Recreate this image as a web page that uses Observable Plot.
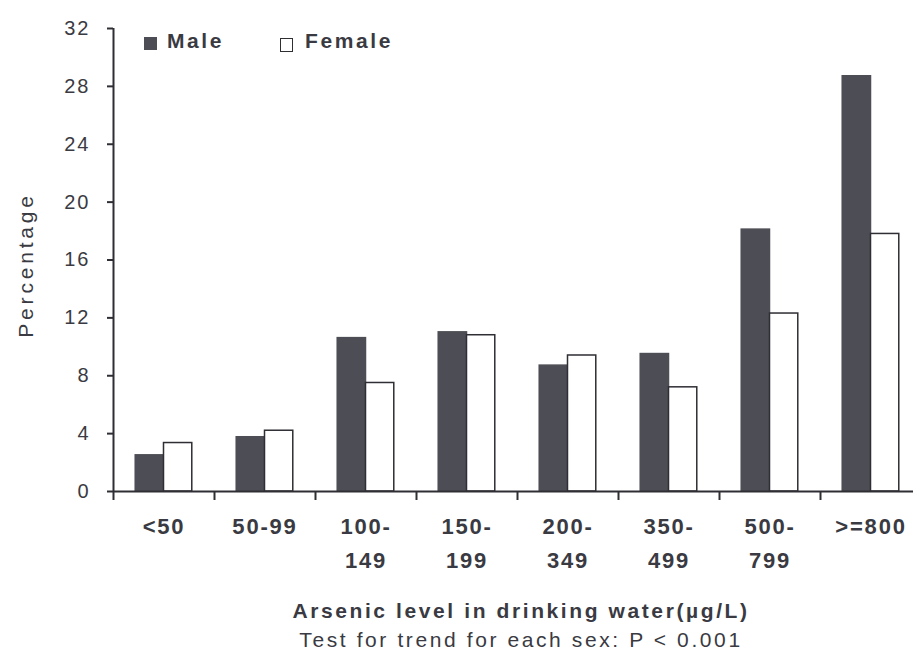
<!DOCTYPE html>
<html>
<head>
<meta charset="utf-8">
<script src="https://cdn.jsdelivr.net/npm/d3@7"></script>
<script src="https://cdn.jsdelivr.net/npm/@observablehq/plot@0.6"></script>
<style>
  html, body { margin: 0; padding: 0; background: #ffffff; }
  #wrap { position: relative; width: 913px; height: 662px; overflow: hidden; font-family: "Liberation Sans", Arial, sans-serif; color: #3a3a42; }
  #legend { position: absolute; left: 0; top: 0; }
  .lg-box { position: absolute; box-sizing: border-box; }
  .lg-text { position: absolute; font-size: 21px; font-weight: bold; letter-spacing: 2.6px; line-height: 1; }
  .cap { position: absolute; left: 521px; transform: translateX(-50%); white-space: nowrap; }
  #wrap svg g[aria-label="y-axis tick label"] text { letter-spacing: 2px; }
  #wrap svg g[aria-label="x-axis tick label"] text { letter-spacing: 1.8px; }
  #wrap svg g.ylab text { letter-spacing: 3.8px; }
</style>
</head>
<body>
<div id="wrap"></div>
<script>
// ---- data ----
const categories = ["<50", "50-99", "100-149", "150-199", "200-349", "350-499", "500-799", ">=800"];
const tickLabels = ["<50", "50-99", "100-\n149", "150-\n199", "200-\n349", "350-\n499", "500-\n799", ">=800"];
const male   = [2.5, 3.75, 10.6, 11.0, 8.7, 9.5, 18.1, 28.7];
const female = [3.35, 4.2, 7.5, 10.8, 9.4, 7.2, 12.3, 17.8];
const yTicks = [0, 4, 8, 12, 16, 20, 24, 28, 32];
const seriesNames = ["Male", "Female"];

// ---- styles ----
const maleFill = "#4d4d55";
const ink = "#3a3a42";
const half = 0.28; // bar width in category units

const rows = [];
categories.forEach((c, i) => {
  rows.push({i, sex: "Male", x1: i + 0.5 - half, x2: i + 0.5, value: male[i]});
  rows.push({i, sex: "Female", x1: i + 0.5, x2: i + 0.5 + half, value: female[i]});
});

const plot = Plot.plot({
  width: 913,
  height: 590,
  marginTop: 28,
  marginBottom: 99,
  marginLeft: 113,
  marginRight: 0,
  style: {fontFamily: "'Liberation Sans', Arial, sans-serif", color: ink, background: "transparent", overflow: "visible"},
  x: {type: "linear", domain: [0, categories.length], range: [113, 921]},
  y: {domain: [0, 32], range: [491, 28]},
  marks: [
    Plot.rectY(rows, {
      x1: "x1", x2: "x2", y1: 0, y2: "value",
      fill: d => d.sex === "Male" ? maleFill : "#ffffff",
      stroke: d => d.sex === "Male" ? maleFill : "#2e2e34",
      strokeWidth: 1.5
    }),
    Plot.ruleY([0], {stroke: "#2e2e34", strokeWidth: 2}),
    Plot.ruleX([0], {stroke: "#2e2e34", strokeWidth: 2}),
    Plot.axisY({
      ticks: yTicks, tickSize: 6, tickPadding: 17, strokeWidth: 2, stroke: "#2e2e34",
      fontSize: 20, fill: ink,
      label: null
    }),
    Plot.text(["Percentage"], {
      frameAnchor: "left", dx: -87, dy: 5, rotate: -90, fontSize: 21, fill: ink,
      textAnchor: "middle", className: "ylab"
    }),
    Plot.axisX({
      ticks: d3.range(0, categories.length + 1), tickSize: 9, strokeWidth: 2, stroke: "#2e2e34",
      tickFormat: () => "", label: null
    }),
    Plot.axisX({
      ticks: d3.range(categories.length).map(i => i + 0.5), tickSize: 0, tickPadding: 18,
      tickFormat: v => tickLabels[Math.round(v - 0.5)],
      fontSize: 22, fontWeight: "bold", fill: ink, lineHeight: 1.55,
      label: null
    })
  ]
});

const wrap = document.getElementById("wrap");
wrap.appendChild(plot);
// the className option may land on the group; make sure the class exists
d3.select(plot).selectAll("text").filter(function() { return this.textContent === "Percentage"; })
  .style("letter-spacing", "3.8px");

// legend
const legend = document.createElement("div");
legend.id = "legend";
const items = [
  {name: seriesNames[0], box: {left: 144, top: 37, w: 13, h: 13, fill: maleFill, border: "1px solid " + maleFill}, text: {left: 167, top: 30}},
  {name: seriesNames[1], box: {left: 280, top: 38, w: 13, h: 14, fill: "#fff", border: "1.5px solid #2e2e34"}, text: {left: 305, top: 30}}
];
items.forEach(it => {
  const b = document.createElement("div");
  b.className = "lg-box";
  Object.assign(b.style, {left: it.box.left + "px", top: it.box.top + "px", width: it.box.w + "px", height: it.box.h + "px", background: it.box.fill, border: it.box.border});
  legend.appendChild(b);
  const t = document.createElement("div");
  t.className = "lg-text";
  t.textContent = it.name;
  Object.assign(t.style, {left: it.text.left + "px", top: it.text.top + "px"});
  legend.appendChild(t);
});
wrap.appendChild(legend);

// x title and caption
const title = document.createElement("div");
title.className = "cap";
title.textContent = "Arsenic level in drinking water(µg/L)";
Object.assign(title.style, {top: "599px", fontSize: "21px", fontWeight: "bold", letterSpacing: "2.6px"});
wrap.appendChild(title);

const caption = document.createElement("div");
caption.className = "cap";
caption.textContent = "Test for trend for each sex: P < 0.001";
Object.assign(caption.style, {top: "628px", fontSize: "21px", letterSpacing: "2.6px"});
wrap.appendChild(caption);
</script>
</body>
</html>
